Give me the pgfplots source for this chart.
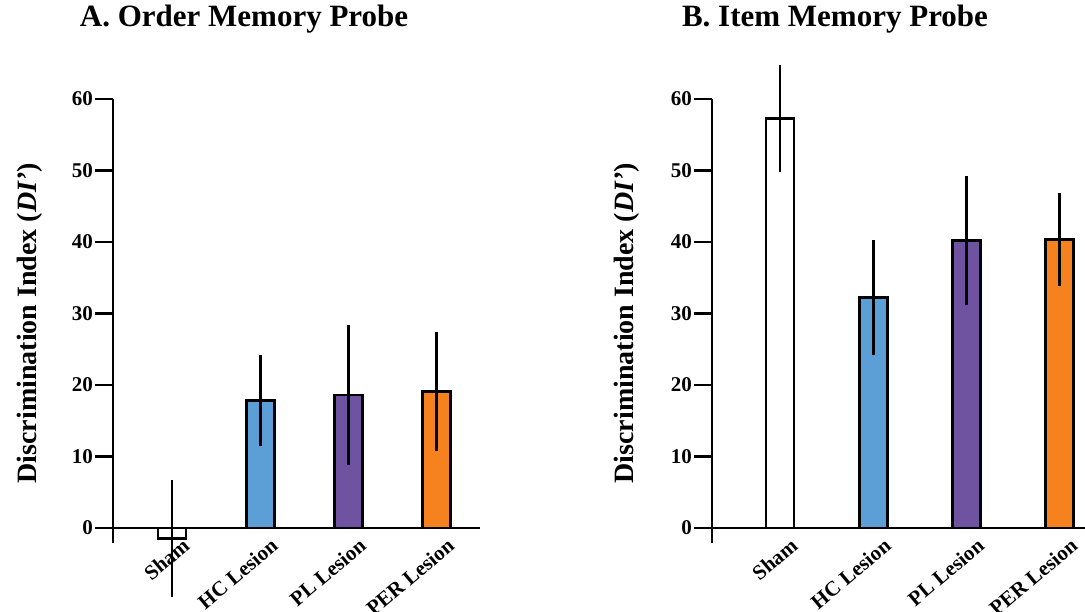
\documentclass[border=0pt]{standalone}
\usepackage{fontspec}
\setmainfont{Liberation Serif}
\usepackage{pgfplots}
\pgfplotsset{compat=1.18}
\definecolor{hcblue}{HTML}{5C9FD6}
\definecolor{plpurple}{HTML}{6F52A0}
\definecolor{perorange}{HTML}{F5821F}
\pgfplotsset{
  panel/.style={
    scale only axis,
    ymin=-2.1, ymax=60,
    axis y line=left, axis x line=middle,
    axis line style={-, line width=2.8pt},
    every inner x axis line/.append style={-},
    every outer x axis line/.append style={-},
    every outer y axis line/.append style={-},
    hide obscured y ticks=false,
    hide obscured x ticks=false,
    clip=false,
    ytick={0,10,20,30,40,50,60},
    tick align=outside,
    major tick length=18pt,
    ytick style={line width=2.8pt, black},
    xtick={0,1,2,3},
    xtick style={draw=none},
    xticklabels={Sham, HC Lesion, PL Lesion, PER Lesion},
    /pgf/number format/assume math mode=true,
    yticklabel style={font=\fontsize{21}{21}\selectfont\bfseries, inner sep=2pt},
    xticklabel style={font=\fontsize{21}{21}\selectfont\bfseries, xshift=10pt, yshift=14pt, rotate=40, anchor=north east},
    every axis y label/.style={at={(axis description cs:-0.228,0.495)}, rotate=90, anchor=center, font=\fontsize{28}{30}\selectfont\bfseries},
    ylabel={Discrimination Index (\textit{DI'})},
  },
  bar/.style={ybar, bar width=28pt, bar shift=0pt, draw=black, line width=2.8pt, fill=#1,
    error bars/.cd, y dir=both, y explicit, error mark=none,
    error bar style={line width=2.8pt, black, solid}},
}
\begin{document}
\begin{tikzpicture}
\path[use as bounding box] (0,0) rectangle (1085pt,611pt);
\begin{axis}[panel, width=367pt, height=444pt, at={(113pt,68pt)}, anchor=south west,
  xmin=-0.668, xmax=3.49]
\addplot[bar=white] coordinates {(0,-1.5) +- (0,8.2)};
\addplot[bar=hcblue] coordinates {(1,17.8) +- (0,6.4)};
\addplot[bar=plpurple] coordinates {(2,18.6) +- (0,9.8)};
\addplot[bar=perorange] coordinates {(3,19.1) +- (0,8.3)};
\end{axis}
\begin{axis}[panel, width=373pt, height=444pt, at={(712pt,68pt)}, anchor=south west,
  xmin=-0.729, xmax=3.27]
\addplot[bar=white] coordinates {(0,57.3) +- (0,7.45)};
\addplot[bar=hcblue] coordinates {(1,32.2) +- (0,8.05)};
\addplot[bar=plpurple] coordinates {(2,40.2) +- (0,9.0)};
\addplot[bar=perorange] coordinates {(3,40.3) +- (0,6.5)};
\end{axis}
\node[font=\fontsize{31}{36}\selectfont\bfseries] at (244pt,592pt) {A. Order Memory Probe};
\node[font=\fontsize{31}{36}\selectfont\bfseries] at (835pt,592pt) {B. Item Memory Probe};
\end{tikzpicture}
\end{document}
